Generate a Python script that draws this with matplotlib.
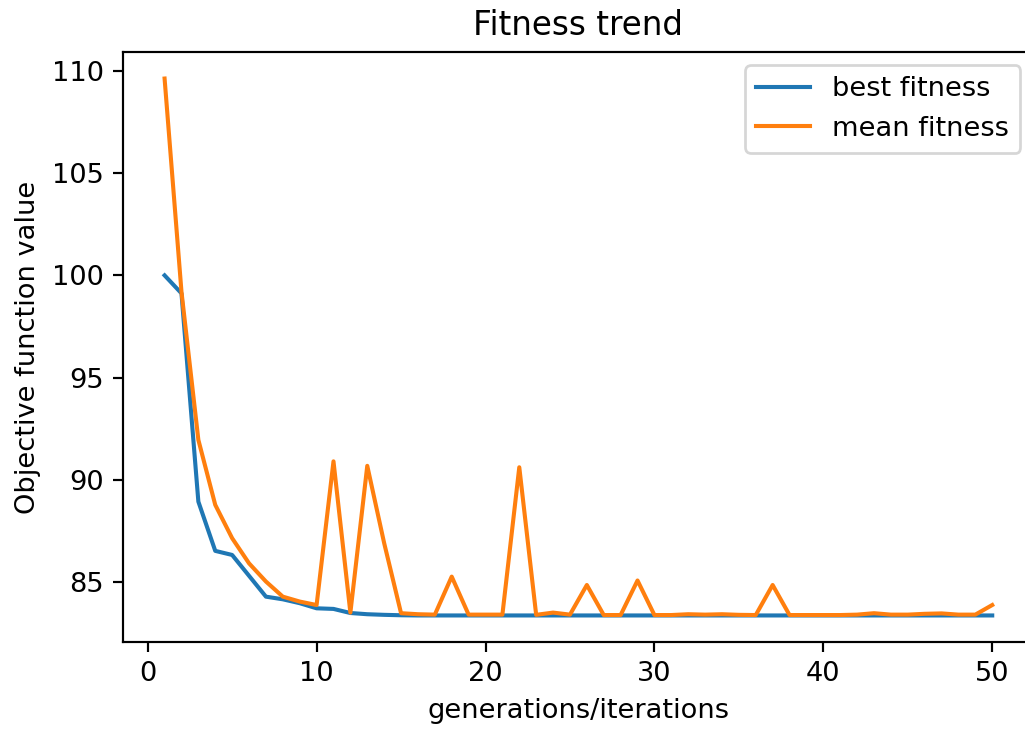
import numpy as np
import matplotlib
matplotlib.use("Agg")
import matplotlib.pyplot as plt

# fitness per generation
generations = np.arange(1, 51)
best_fitness = [100.0, 99.12, 88.93, 86.52, 86.32, 85.30, 84.28, 84.15, 83.96, 83.71,
                83.68, 83.48, 83.42, 83.39, 83.37, 83.36, 83.36, 83.36, 83.36, 83.36,
                83.36, 83.36, 83.36, 83.36, 83.36, 83.36, 83.36, 83.36, 83.36, 83.36,
                83.36, 83.36, 83.36, 83.36, 83.36, 83.36, 83.36, 83.36, 83.36, 83.36,
                83.36, 83.36, 83.36, 83.36, 83.36, 83.36, 83.36, 83.36, 83.36, 83.36]
mean_fitness = [109.63, 99.2, 91.95, 88.77, 87.14, 85.91, 85.02, 84.28, 84.04, 83.87,
                90.9, 83.5, 90.68, 86.9, 83.47, 83.42, 83.4, 85.26, 83.4, 83.4,
                83.4, 90.61, 83.39, 83.5, 83.4, 84.85, 83.38, 83.38, 85.07, 83.38,
                83.38, 83.42, 83.4, 83.42, 83.39, 83.38, 84.85, 83.38, 83.38, 83.38,
                83.38, 83.4, 83.47, 83.4, 83.4, 83.44, 83.46, 83.4, 83.4, 83.87]

dpi = 196
fig = plt.figure(figsize=(1025 / dpi, 730 / dpi), dpi=dpi)
ax = fig.add_axes([123.2 / 1025, (730 - 642.3) / 730, (1033.6 - 123.2) / 1025, (642.3 - 51.7) / 730])

ax.plot(generations, best_fitness, label='best fitness')
ax.plot(generations, mean_fitness, label='mean fitness')
ax.set_title('Fitness trend')
ax.set_xlabel('generations/iterations')
ax.set_ylabel('Objective function value')
ax.legend(loc='upper right')

fig.savefig('out.png', dpi=dpi)
